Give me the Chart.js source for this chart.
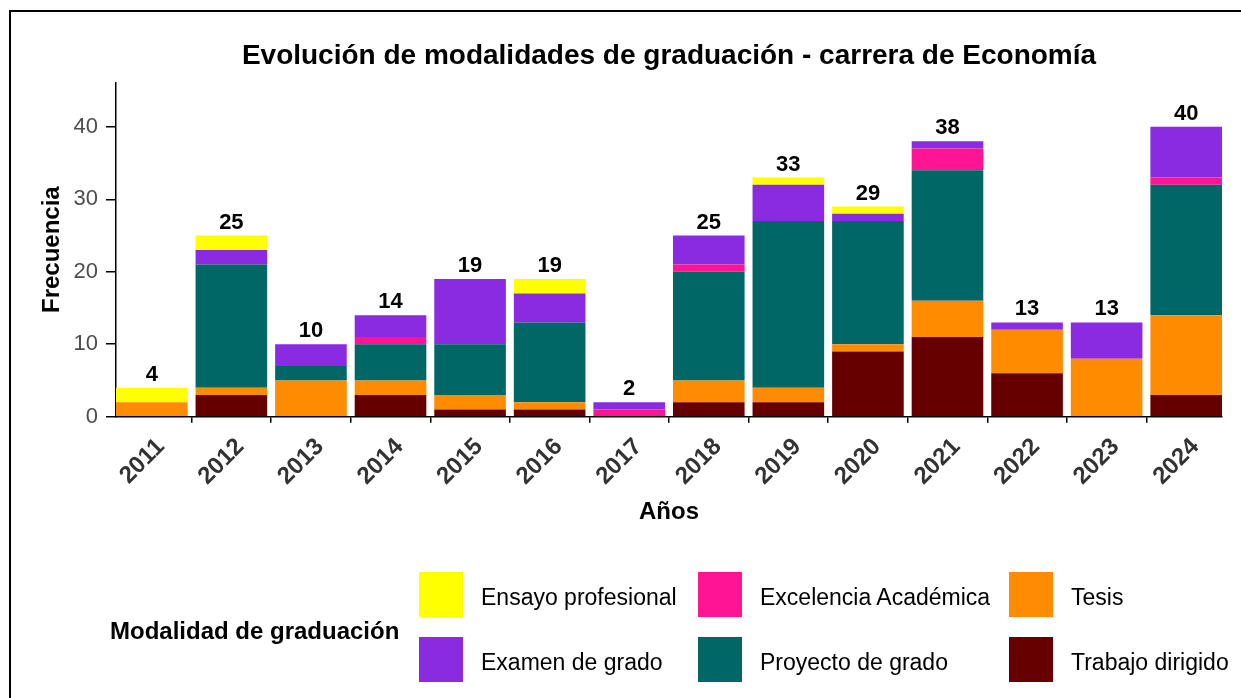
<!DOCTYPE html>
<html lang="es">
<head>
<meta charset="utf-8">
<title>Evolución de modalidades de graduación</title>
<script src="https://cdn.jsdelivr.net/npm/chart.js@4.4.1/dist/chart.umd.min.js"></script>
<style>
    html, body { margin: 0; padding: 0; background: #fff; }
    #wrap { position: relative; width: 1241px; height: 698px; overflow: hidden; font-family: "Liberation Sans", Arial, sans-serif; }
    #chart { position: absolute; left: 0; top: 0; }
    #frame { position: absolute; left: 9px; top: 10px; width: 1300px; height: 800px; border-top: 2px solid #000; border-left: 2px solid #000; pointer-events: none; }
    .leg-title { position: absolute; left: 110px; top: 615px; line-height: 32px; font-size: 24px; font-weight: bold; color: #000; white-space: nowrap; }
    .leg-box { position: absolute; width: 44px; height: 45px; }
    .leg-text { position: absolute; line-height: 45px; font-size: 23px; color: #000; white-space: nowrap; }
</style>
</head>
<body>
<div id="wrap">
    <canvas id="chart" width="1241" height="698"></canvas>
    <div id="legend"></div>
    <div id="frame"></div>
</div>
<script>
// Datos
const years = [2011, 2012, 2013, 2014, 2015, 2016, 2017, 2018, 2019, 2020, 2021, 2022, 2023, 2024];
const trabajoDirigido = [0, 3, 0, 3, 1, 1, 0, 2, 2, 9, 11, 6, 0, 3];
const tesis = [2, 1, 5, 2, 2, 1, 0, 3, 2, 1, 5, 6, 8, 11];
const proyectoGrado = [0, 17, 2, 5, 7, 11, 0, 15, 23, 17, 18, 0, 0, 18];
const excelencia = [0, 0, 0, 1, 0, 0, 1, 1, 0, 0, 3, 0, 0, 1];
const examenGrado = [0, 2, 3, 3, 9, 4, 1, 4, 5, 1, 1, 1, 5, 7];
const ensayo = [2, 2, 0, 0, 0, 2, 0, 0, 1, 1, 0, 0, 0, 0];
const yTicks = [0, 10, 20, 30, 40];

const FONT = '"Liberation Sans", Arial, sans-serif';

// orden de apilado: de abajo hacia arriba
const series = [
    { label: 'Trabajo dirigido', data: trabajoDirigido, color: '#660000' },
    { label: 'Tesis', data: tesis, color: '#FF8C00' },
    { label: 'Proyecto de grado', data: proyectoGrado, color: '#006666' },
    { label: 'Excelencia Académica', data: excelencia, color: '#FF1493' },
    { label: 'Examen de grado', data: examenGrado, color: '#8A2BE2' },
    { label: 'Ensayo profesional', data: ensayo, color: '#FFFF00' }
];

// orden de la leyenda (por columnas, como ggplot)
const legendOrder = [
    'Ensayo profesional', 'Excelencia Académica', 'Tesis',
    'Examen de grado', 'Proyecto de grado', 'Trabajo dirigido'
];

const totals = years.map((_, i) => series.reduce((s, d) => s + d.data[i], 0));

// etiquetas con el total encima de cada barra
const totalLabels = {
    id: 'totalLabels',
    afterDatasetsDraw(chart) {
        const { ctx, scales: { x, y } } = chart;
        ctx.save();
        ctx.font = 'bold 22px ' + FONT;
        ctx.fillStyle = '#000';
        ctx.textAlign = 'center';
        ctx.textBaseline = 'alphabetic';
        totals.forEach((t, i) => {
            ctx.fillText(String(t), x.getPixelForValue(years[i]), y.getPixelForValue(t) - 7);
        });
        ctx.restore();
    }
};

new Chart(document.getElementById('chart'), {
    type: 'bar',
    data: {
        datasets: series.map(s => ({
            label: s.label,
            data: years.map((yr, i) => ({ x: yr, y: s.data[i] })),
            backgroundColor: s.color,
            borderWidth: 0,
            categoryPercentage: 0.9,
            barPercentage: 1
        }))
    },
    options: {
        responsive: false,
        animation: false,
        devicePixelRatio: 1,
        layout: { padding: { left: 0, right: 19, top: 0, bottom: 150 } },
        plugins: {
            legend: { display: false },
            tooltip: { enabled: false },
            title: {
                display: true,
                fullSize: false,
                text: 'Evolución de modalidades de graduación - carrera de Economía',
                color: '#000',
                font: { family: FONT, size: 28, weight: 'bold' },
                padding: { top: 39, bottom: 10 }
            }
        },
        scales: {
            x: {
                type: 'linear',
                stacked: true,
                offset: false,
                min: years[0] - 0.45,
                max: years[years.length - 1] + 0.45,
                afterFit: scale => { scale.height = 131.3; },
                border: { display: true, color: '#000', width: 1.5 },
                grid: { drawOnChartArea: false, drawTicks: true, tickLength: 6, color: '#000', lineWidth: 1.5 },
                ticks: {
                    stepSize: 1,
                    includeBounds: false,
                    autoSkip: false,
                    minRotation: 45,
                    maxRotation: 45,
                    labelOffset: 9,
                    padding: 10,
                    color: '#333',
                    font: { family: FONT, size: 24, weight: 'bold' },
                    callback: v => String(v)
                },
                title: {
                    display: true,
                    text: 'Años',
                    color: '#000',
                    font: { family: FONT, size: 24, weight: 'bold' },
                    padding: { top: 0, bottom: 21 }
                }
            },
            y: {
                stacked: true,
                min: 0,
                max: 46.1,
                afterFit: scale => { scale.width = 116; },
                afterBuildTicks: scale => { scale.ticks = yTicks.map(v => ({ value: v })); },
                border: { display: true, color: '#000', width: 1.5 },
                grid: { drawOnChartArea: false, drawTicks: true, tickLength: 10, color: '#000', lineWidth: 1.5 },
                ticks: {
                    padding: 8,
                    color: '#4d4d4d',
                    font: { family: FONT, size: 22 }
                },
                title: {
                    display: true,
                    text: 'Frecuencia',
                    color: '#000',
                    font: { family: FONT, size: 24, weight: 'bold' },
                    padding: { top: 38, bottom: 0 }
                }
            }
        }
    },
    plugins: [totalLabels]
});

// leyenda en HTML, estilo ggplot (título a la izquierda, 2 filas x 3 columnas)
const legend = document.getElementById('legend');
const colX = [419, 698, 1009];
const rowY = [572, 637];
legend.innerHTML = '<div class="leg-title">Modalidad de graduación</div>';
legendOrder.forEach((name, k) => {
    const s = series.find(d => d.label === name);
    const col = k % 3, row = Math.floor(k / 3);
    const box = document.createElement('div');
    box.className = 'leg-box';
    box.style.left = colX[col] + 'px';
    box.style.top = rowY[row] + 'px';
    box.style.background = s.color;
    legend.appendChild(box);
    const txt = document.createElement('div');
    txt.className = 'leg-text';
    txt.style.left = (colX[col] + 62) + 'px';
    txt.style.top = (rowY[row] + 3) + 'px';
    txt.textContent = name;
    legend.appendChild(txt);
});
</script>
</body>
</html>
